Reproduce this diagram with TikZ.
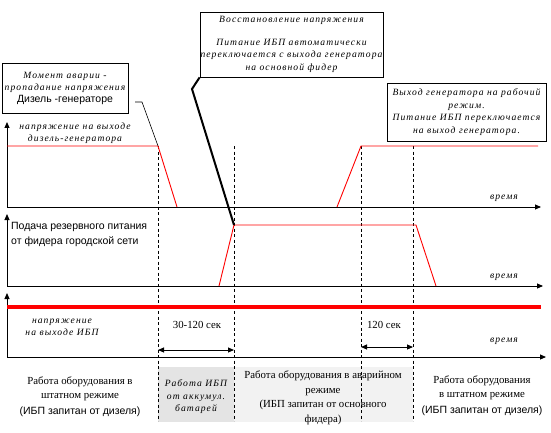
\documentclass[tikz,border=0pt]{standalone}
\usepackage{fontspec}
\setmainfont{Liberation Serif}
\setsansfont{Liberation Sans}
\newfontfamily\capfont[LetterSpace=11]{Liberation Serif}
\usetikzlibrary{arrows.meta}
\definecolor{sigred}{HTML}{FF0000}
\definecolor{batgray}{HTML}{E4E4E4}
\definecolor{feedgray}{HTML}{F2F2F2}
\tikzset{
  axisline/.style={line width=0.9pt, -{Triangle[length=6pt,width=5pt]}},
  signal/.style={sigred, line width=0.9pt},
  guide/.style={line width=0.6pt, dash pattern=on 3pt off 2.5pt},
  span/.style={line width=0.9pt, {Triangle[length=6pt,width=5pt]}-{Triangle[length=6pt,width=5pt]}},
  callout/.style={draw, line width=0.8pt, align=center, inner sep=0pt,
    font=\capfont\itshape\fontsize{9.6}{12.5}\selectfont},
  itlbl/.style={align=center, inner sep=0pt, font=\capfont\itshape\fontsize{9.6}{12.5}\selectfont},
  rmlbl/.style={align=center, inner sep=0pt, font=\fontsize{10.8}{14.5}\selectfont},
  sflbl/.style={align=left, inner sep=0pt, font=\sffamily\fontsize{10.5}{15}\selectfont},
}

\begin{document}
\begin{tikzpicture}[x=1pt,y=-1pt]
\useasboundingbox (0,0) rectangle (551,433);

% operating modes, shaded
\fill[batgray] (158,367) rectangle (234,422);
\fill[feedgray] (234,367) rectangle (413,422);

% event instants
\coordinate (dgfall) at (158,146);
\coordinate (feedon) at (234,225);
\coordinate (dgback) at (361,146);
\coordinate (feedoff) at (413,146);
\foreach \t in {dgfall,feedon,dgback,feedoff}
  \draw[guide] (\t |- 0,146) -- (\t |- 0,421);

% three time axes
\draw[axisline] (7,207) -- (7,122);
\draw[axisline] (7,207) -- (541,207);
\draw[axisline] (7,286) -- (7,214);
\draw[axisline] (7,286) -- (543,286);
\draw[axisline] (7,357) -- (7,293);
\draw[axisline] (7,357) -- (546,357);

% signals
\draw[signal] (7,146) -- (dgfall) -- (177,207);
\draw[signal] (337,207) -- (dgback) -- (538,146);
\draw[signal] (219,286) -- (feedon) -- (416,225) -- (436,286);
\draw[sigred, line width=3.5pt] (7,307) -- (541,307);

% axis captions
\node[itlbl] (dgcap) at (75,133) {напряжение на выходе\\дизель-генератора};
\node[sflbl, anchor=west] (feedcap) at (11,234.5) {Подача резервного питания\\от фидера городской сети};
\node[itlbl] (upscap) at (62,327.5) {напряжение\\на выходе ИБП};
\node[itlbl] (time1) at (504,198) {время};
\node[itlbl] (time2) at (504,277) {время};
\node[itlbl] (time3) at (504,341) {время};

% durations
\draw[span] (158,350) -- (234,350);
\draw[span] (361,347) -- (413,347);
\node[rmlbl] (dur1) at (197,325) {30-120 сек};
\node[rmlbl] (dur2) at (384,325) {120 сек};

% callouts
\node[callout, minimum width=126pt, minimum height=50pt] (crashbox) at (65,88)
  {Момент аварии -\\пропадание напряжения\\[-1pt]{\sffamily\upshape\fontsize{10.5}{12}\selectfont Дизель -генераторе}};
\coordinate (crashtick) at (135,102);
\draw[line width=0.6pt] (crashtick) -- ++(7,0) -- (dgfall);

\node[callout, minimum width=183pt, minimum height=65pt] (restorebox) at (291.5,44.5)
  {Восстановление напряжения\\[10pt]Питание ИБП  автоматически\\переключается с выхода генератора\\на основной фидер};
\coordinate (restorebend) at (192,89);
\draw[line width=2pt] (restorebox.south west) -- (restorebend) -- (feedon);

\node[callout, minimum width=159pt, minimum height=58pt] (returnbox) at (466.5,112)
  {Выход генератора на рабочий\\режим.\\Питание ИБП  переключается\\на выход генератора.};

% mode descriptions
\node[rmlbl] (mode1) at (80,389) {Работа оборудования в\\штатном режиме};
\node[sflbl, align=center] (mode1b) at (80,412) {(ИБП запитан от дизеля)};
\node[itlbl] (mode2) at (196,397) {Работа ИБП\\от аккумул.\\батарей};
\node[rmlbl] (mode3) at (323,398) {Работа оборудования в аварийном\\режиме\\(ИБП запитан от основного\\фидера)};
\node[rmlbl] (mode4) at (482,388) {Работа оборудования\\в штатном режиме};
\node[sflbl, align=center] (mode4b) at (482,411) {(ИБП запитан от дизеля)};
\end{tikzpicture}
\end{document}
